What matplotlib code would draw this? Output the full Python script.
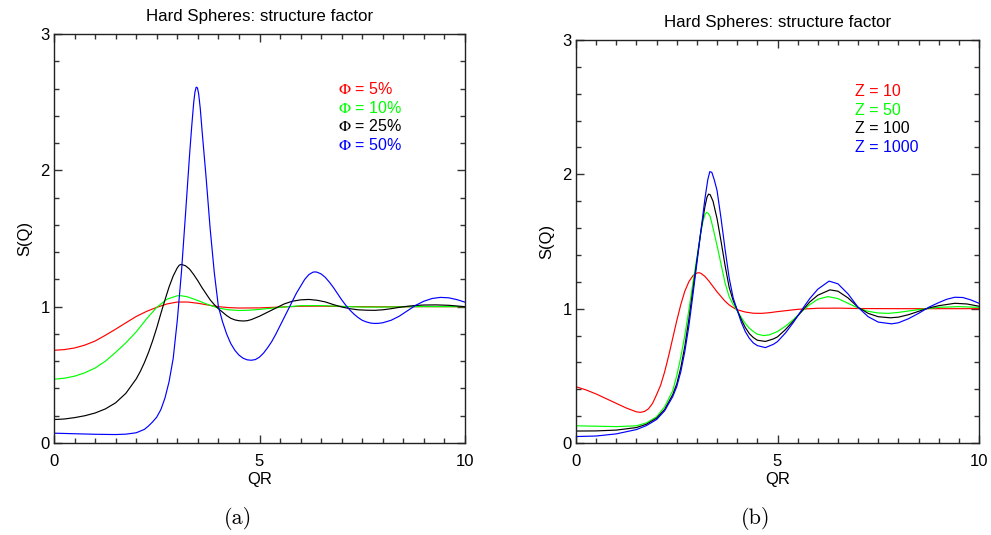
import matplotlib

matplotlib.use("Agg")
import matplotlib.pyplot as plt
from matplotlib.ticker import MultipleLocator

# ── Data ──────────────────────────────────────────────────────────────────────
# (a) volume fraction series
qr_phi5 = [0, 0.25, 0.5, 0.75, 1.0, 1.25, 1.5, 1.75, 2.0, 2.25, 2.5, 2.75, 3.0, 3.25, 3.5, 3.75,
           4.0, 4.25, 4.5, 5.0, 5.5, 6.0, 6.5, 7.0, 8.0, 9.0, 10.0]
s_phi5 = [0.68, 0.685, 0.697, 0.718, 0.748, 0.79, 0.835, 0.882, 0.928, 0.965, 0.995, 1.02, 1.034, 1.034, 1.025, 1.012,
          1.0, 0.993, 0.99, 0.991, 0.997, 1.003, 1.004, 1.001, 0.999, 1.0, 1.0]

qr_phi10 = [0, 0.25, 0.5, 0.75, 1.0, 1.25, 1.5, 1.75, 2.0, 2.25, 2.5, 2.75, 3.0, 3.1, 3.25, 3.5, 3.75,
            4.0, 4.25, 4.5, 4.75, 5.0, 5.5, 6.0, 6.5, 7.0, 7.5, 8.0, 9.0, 10.0]
s_phi10 = [0.468, 0.475, 0.49, 0.515, 0.55, 0.6, 0.665, 0.735, 0.815, 0.91, 0.995, 1.055, 1.08, 1.08, 1.072, 1.045, 1.015,
           0.99, 0.977, 0.972, 0.974, 0.98, 0.995, 1.007, 1.008, 1.002, 0.997, 0.997, 1.001, 1.0]

qr_phi25 = [0, 0.25, 0.5, 0.75, 1.0, 1.25, 1.5, 1.75, 2.0, 2.1, 2.2, 2.3, 2.4, 2.5, 2.6, 2.7, 2.8, 2.9,
            3.0, 3.05, 3.1, 3.2, 3.3, 3.4, 3.5, 3.6, 3.7, 3.8, 3.9, 4.0, 4.1, 4.2, 4.3, 4.4, 4.5, 4.6,
            4.7, 4.8, 5.0, 5.2, 5.4, 5.6, 5.8, 6.0, 6.2, 6.4, 6.6, 6.8, 7.0, 7.2, 7.4, 7.6, 7.8, 8.0,
            8.2, 8.4, 8.6, 8.8, 9.0, 9.3, 9.6, 10.0]
s_phi25 = [0.172, 0.176, 0.186, 0.2, 0.22, 0.25, 0.295, 0.365, 0.47, 0.525, 0.59, 0.665, 0.75, 0.845, 0.95, 1.05, 1.145, 1.225,
           1.285, 1.305, 1.31, 1.30, 1.275, 1.235, 1.19, 1.14, 1.095, 1.05, 1.015, 0.985, 0.96, 0.935, 0.915, 0.903, 0.897, 0.895,
           0.897, 0.905, 0.93, 0.96, 0.99, 1.02, 1.04, 1.05, 1.053, 1.047, 1.035, 1.015, 0.998, 0.985, 0.977, 0.974, 0.973, 0.977,
           0.985, 0.995, 1.003, 1.009, 1.012, 1.013, 1.01, 1.0]

qr_phi50 = [0, 0.5, 1.0, 1.5, 1.75, 2.0, 2.2, 2.3, 2.4, 2.5, 2.6, 2.7, 2.8, 2.9, 3.0, 3.1, 3.2, 3.3, 3.35, 3.4,
            3.43, 3.46, 3.49, 3.52, 3.56, 3.6, 3.7, 3.8, 3.9, 4.0, 4.1, 4.2, 4.3, 4.4, 4.5, 4.6, 4.7, 4.8,
            4.9, 5.0, 5.1, 5.2, 5.3, 5.4, 5.5, 5.6, 5.7, 5.8, 5.9, 6.0, 6.1, 6.2, 6.3, 6.35, 6.4, 6.5, 6.6,
            6.7, 6.8, 6.9, 7.0, 7.1, 7.2, 7.3, 7.4, 7.5, 7.6, 7.7, 7.8, 7.9, 8.0, 8.2, 8.4, 8.6, 8.8, 9.0,
            9.2, 9.4, 9.6, 9.8, 10.0]
s_phi50 = [0.072, 0.068, 0.064, 0.062, 0.065, 0.075, 0.1, 0.125, 0.155, 0.19, 0.245, 0.33, 0.45, 0.62, 0.9, 1.25, 1.68, 2.12, 2.32, 2.5,
           2.575, 2.61, 2.605, 2.56, 2.45, 2.30, 1.95, 1.57, 1.25, 1.0, 0.89, 0.80, 0.73, 0.68, 0.645, 0.622, 0.61, 0.607,
           0.612, 0.63, 0.66, 0.70, 0.745, 0.80, 0.86, 0.92, 0.98, 1.04, 1.10, 1.15, 1.20, 1.235, 1.253, 1.255, 1.253, 1.24, 1.215,
           1.18, 1.14, 1.095, 1.05, 1.01, 0.975, 0.945, 0.92, 0.90, 0.888, 0.88, 0.877, 0.878, 0.882, 0.90, 0.93, 0.97, 1.01, 1.04,
           1.06, 1.068, 1.065, 1.052, 1.033]

# (b) charge series
qr_z10 = [0, 0.25, 0.5, 0.75, 1.0, 1.25, 1.5, 1.6, 1.7, 1.8, 1.9, 2.0, 2.1, 2.2, 2.3, 2.4, 2.5, 2.6, 2.7, 2.8,
          2.9, 3.0, 3.05, 3.1, 3.2, 3.3, 3.4, 3.5, 3.6, 3.7, 3.8, 3.9, 4.0, 4.2, 4.4, 4.6, 4.8, 5.0, 5.5,
          6.0, 6.5, 7.0, 8.0, 10.0]
s_z10 = [0.419, 0.395, 0.365, 0.33, 0.295, 0.26, 0.232, 0.228, 0.235, 0.255, 0.295, 0.36, 0.43, 0.53, 0.65, 0.78, 0.91, 1.03, 1.13, 1.20,
         1.245, 1.265, 1.268, 1.263, 1.24, 1.205, 1.165, 1.125, 1.09, 1.055, 1.028, 1.008, 0.992, 0.975, 0.966, 0.965, 0.97, 0.978, 0.995,
         1.003, 1.004, 1.001, 1.0, 1.0]

qr_z50 = [0, 0.5, 1.0, 1.5, 1.75, 2.0, 2.2, 2.4, 2.5, 2.6, 2.7, 2.8, 2.9, 3.0, 3.1, 3.15, 3.2, 3.24, 3.28, 3.33,
          3.4, 3.5, 3.6, 3.7, 3.8, 3.9, 4.0, 4.1, 4.2, 4.3, 4.4, 4.5, 4.65, 4.8, 5.0, 5.2, 5.4, 5.6, 5.8,
          6.0, 6.25, 6.5, 6.75, 7.0, 7.25, 7.5, 7.75, 8.0, 8.5, 9.0, 9.5, 10.0]
s_z50 = [0.128, 0.125, 0.122, 0.128, 0.15, 0.195, 0.27, 0.39, 0.50, 0.64, 0.80, 0.99, 1.19, 1.38, 1.57, 1.65, 1.70, 1.717, 1.71, 1.685,
         1.60, 1.47, 1.33, 1.19, 1.09, 1.03, 0.985, 0.935, 0.89, 0.855, 0.83, 0.81, 0.80, 0.805, 0.83, 0.87, 0.92, 0.98, 1.03,
         1.07, 1.09, 1.075, 1.04, 1.005, 0.98, 0.968, 0.965, 0.972, 0.993, 1.01, 1.015, 1.01]

qr_z100 = [0, 0.5, 1.0, 1.5, 1.75, 2.0, 2.2, 2.4, 2.5, 2.6, 2.7, 2.8, 2.9, 3.0, 3.1, 3.2, 3.25, 3.29, 3.33, 3.4,
           3.5, 3.6, 3.7, 3.8, 3.9, 4.0, 4.1, 4.2, 4.3, 4.4, 4.5, 4.7, 4.9, 5.0, 5.2, 5.4, 5.6, 5.8, 6.0,
           6.3, 6.5, 6.75, 7.0, 7.25, 7.5, 7.8, 8.0, 8.25, 8.5, 8.75, 9.0, 9.4, 9.7, 10.0]
s_z100 = [0.089, 0.09, 0.096, 0.115, 0.14, 0.185, 0.25, 0.36, 0.44, 0.56, 0.72, 0.92, 1.14, 1.36, 1.58, 1.76, 1.83, 1.853, 1.848, 1.80,
          1.67, 1.50, 1.32, 1.16, 1.06, 0.99, 0.92, 0.86, 0.815, 0.785, 0.765, 0.756, 0.775, 0.79, 0.845, 0.91, 0.98, 1.05, 1.10,
          1.14, 1.13, 1.08, 1.01, 0.965, 0.94, 0.932, 0.937, 0.955, 0.98, 1.005, 1.022, 1.04, 1.035, 1.018]

qr_z1000 = [0, 0.5, 1.0, 1.5, 1.75, 2.0, 2.2, 2.4, 2.5, 2.6, 2.7, 2.8, 2.9, 3.0, 3.1, 3.2, 3.27, 3.32, 3.37, 3.43,
            3.5, 3.6, 3.7, 3.8, 3.9, 4.0, 4.1, 4.2, 4.3, 4.4, 4.5, 4.7, 4.9, 5.0, 5.2, 5.4, 5.6, 5.8, 6.0,
            6.28, 6.5, 6.75, 7.0, 7.25, 7.5, 7.83, 8.0, 8.25, 8.5, 8.75, 9.0, 9.2, 9.4, 9.6, 9.8, 10.0]
s_z1000 = [0.048, 0.052, 0.068, 0.1, 0.13, 0.175, 0.24, 0.345, 0.42, 0.53, 0.68, 0.87, 1.10, 1.34, 1.58, 1.82, 1.96, 2.02, 2.015, 1.96,
           1.88, 1.67, 1.44, 1.23, 1.08, 0.99, 0.90, 0.83, 0.78, 0.745, 0.725, 0.71, 0.735, 0.755, 0.82, 0.90, 0.99, 1.075, 1.145,
           1.205, 1.185, 1.11, 1.01, 0.94, 0.90, 0.887, 0.895, 0.925, 0.965, 1.01, 1.045, 1.07, 1.085, 1.083, 1.065, 1.04]

labels_a = [r"$\Phi$ = 5%", r"$\Phi$ = 10%", r"$\Phi$ = 25%", r"$\Phi$ = 50%"]
labels_b = ["Z = 10", "Z = 50", "Z = 100", "Z = 1000"]
colors = ["#FF0000", "#00FF00", "#000000", "#0000FF"]

series_a = [(qr_phi5, s_phi5), (qr_phi10, s_phi10), (qr_phi25, s_phi25), (qr_phi50, s_phi50)]
series_b = [(qr_z10, s_z10), (qr_z50, s_z50), (qr_z100, s_z100), (qr_z1000, s_z1000)]

# ── Figure ────────────────────────────────────────────────────────────────────
W, H = 991, 535
FONT = "Liberation Sans"
plt.rcParams["font.family"] = [FONT, "DejaVu Sans"]
plt.rcParams["mathtext.fontset"] = "stix"

fig = plt.figure(figsize=(W / 100, H / 100), dpi=100, facecolor="white")


def px_axes(x0, y0, x1, y1):
    return fig.add_axes([x0 / W, 1 - y1 / H, (x1 - x0) / W, (y1 - y0) / H])


def setup(ax, series, labels, leg_x, leg_y):
    for (x, y), c in zip(series, colors):
        ax.plot(x, y, color=c, lw=0.85)
    ax.set_xlim(0, 10)
    ax.set_ylim(0, 3)
    ax.xaxis.set_major_locator(MultipleLocator(5))
    ax.xaxis.set_minor_locator(MultipleLocator(0.5))
    ax.yaxis.set_major_locator(MultipleLocator(1))
    ax.yaxis.set_minor_locator(MultipleLocator(0.2))
    ax.tick_params(which="both", direction="in", top=True, right=True,
                   labelsize=12, color="#333333", width=1.0)
    ax.tick_params(which="major", length=6)
    ax.tick_params(which="minor", length=3.5)
    ax.tick_params(axis="x", which="major", pad=8.2)
    ax.tick_params(axis="y", which="major", pad=3.1)
    for s in ax.spines.values():
        s.set_linewidth(1.0)
        s.set_color("#222222")
    ax.set_title("Hard Spheres: structure factor", fontsize=12.2, pad=9)
    ax.set_xlabel("QR", fontsize=12, labelpad=2.2)
    ax.set_ylabel("S(Q)", fontsize=12, labelpad=5.8)
    for i, (lbl, c) in enumerate(zip(labels, colors)):
        ax.text(leg_x, leg_y - i * 0.046, lbl, color=c, fontsize=11.5,
                transform=ax.transAxes, ha="left", va="center")


ax_a = px_axes(54, 34, 465, 443)
setup(ax_a, series_a, labels_a, 0.69, 0.866)

ax_b = px_axes(576, 40, 979, 443)
setup(ax_b, series_b, labels_b, 0.692, 0.872)

fig.text(238 / W, 1 - 518 / H, "(a)", family="cmr10", fontsize=16, ha="center", va="center")
fig.text(756 / W, 1 - 518 / H, "(b)", family="cmr10", fontsize=16, ha="center", va="center")

fig.savefig("out.png", dpi=100, facecolor="white")
